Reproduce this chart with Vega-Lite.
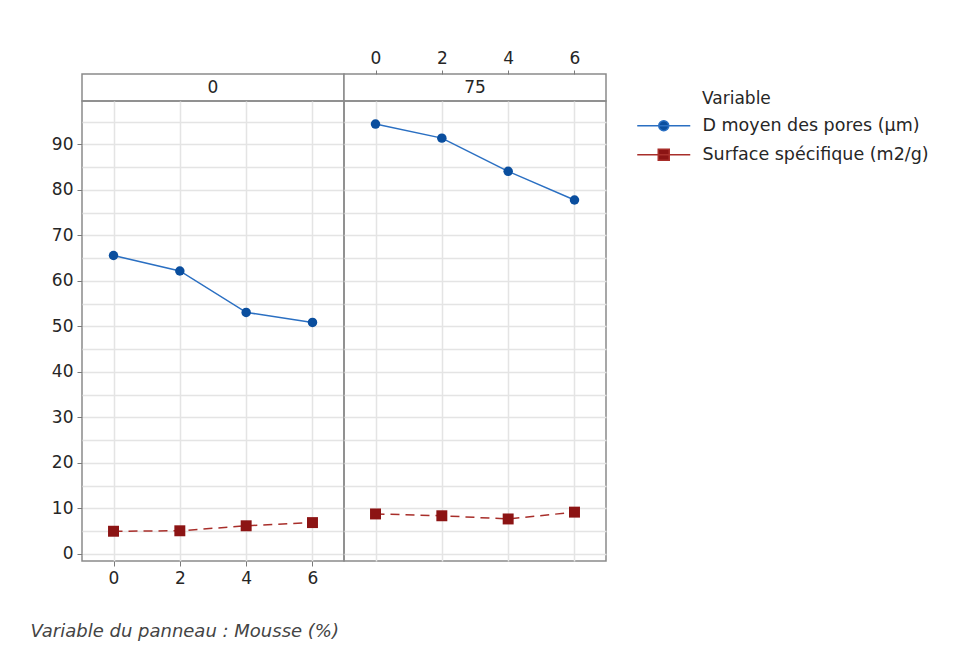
{
  "$schema": "https://vega.github.io/schema/vega-lite/v6.json",
  "background": "white",
  "padding": {"left": 30, "top": 48, "right": 10, "bottom": 8},
  "datasets": {
    "d": [
      {"Mousse": 0, "X": 0, "Variable": "D moyen des pores (µm)", "Valeur": 65.6},
      {"Mousse": 0, "X": 2, "Variable": "D moyen des pores (µm)", "Valeur": 62.2},
      {"Mousse": 0, "X": 4, "Variable": "D moyen des pores (µm)", "Valeur": 53.1},
      {"Mousse": 0, "X": 6, "Variable": "D moyen des pores (µm)", "Valeur": 50.9},
      {"Mousse": 0, "X": 0, "Variable": "Surface spécifique (m2/g)", "Valeur": 5.0},
      {"Mousse": 0, "X": 2, "Variable": "Surface spécifique (m2/g)", "Valeur": 5.1},
      {"Mousse": 0, "X": 4, "Variable": "Surface spécifique (m2/g)", "Valeur": 6.2},
      {"Mousse": 0, "X": 6, "Variable": "Surface spécifique (m2/g)", "Valeur": 6.9},
      {"Mousse": 75, "X": 0, "Variable": "D moyen des pores (µm)", "Valeur": 94.5},
      {"Mousse": 75, "X": 2, "Variable": "D moyen des pores (µm)", "Valeur": 91.4},
      {"Mousse": 75, "X": 4, "Variable": "D moyen des pores (µm)", "Valeur": 84.1},
      {"Mousse": 75, "X": 6, "Variable": "D moyen des pores (µm)", "Valeur": 77.8},
      {"Mousse": 75, "X": 0, "Variable": "Surface spécifique (m2/g)", "Valeur": 8.8},
      {"Mousse": 75, "X": 2, "Variable": "Surface spécifique (m2/g)", "Valeur": 8.4},
      {"Mousse": 75, "X": 4, "Variable": "Surface spécifique (m2/g)", "Valeur": 7.7},
      {"Mousse": 75, "X": 6, "Variable": "Surface spécifique (m2/g)", "Valeur": 9.2}
    ]
  },
  "title": {
    "text": "Variable du panneau : Mousse (%)",
    "orient": "bottom",
    "anchor": "start",
    "font": "DejaVu Sans",
    "fontSize": 18,
    "fontStyle": "italic",
    "fontWeight": "normal",
    "color": "#444444",
    "offset": 36,
    "dx": -20
  },
  "columns": 2,
  "spacing": 0,
  "align": "each",
  "bounds": "flush",
  "concat": [
    {
      "width": 262,
      "height": 27,
      "data": {"values": [{"Mousse": "0"}]},
      "layer": [
        {"mark": {"type": "rect", "fill": "white", "stroke": "#8a8a8a", "strokeWidth": 1.5}},
        {
          "mark": {"type": "text", "font": "DejaVu Sans", "fontSize": 17, "color": "#262626"},
          "encoding": {"text": {"field": "Mousse", "type": "nominal"}}
        }
      ]
    },
    {
      "width": 262,
      "height": 27,
      "data": {"values": [{"Mousse": "75"}]},
      "layer": [
        {"mark": {"type": "rect", "fill": "white", "stroke": "#8a8a8a", "strokeWidth": 1.5}},
        {
          "mark": {"type": "text", "font": "DejaVu Sans", "fontSize": 17, "color": "#262626"},
          "encoding": {"text": {"field": "Mousse", "type": "nominal"}}
        }
      ]
    },
    {
      "width": 262,
      "height": 460,
      "data": {"name": "d"},
      "transform": [{"filter": {"field": "Mousse", "equal": 0}}],
      "encoding": {
        "x": {
          "field": "X", "type": "quantitative",
          "scale": {"domain": [-0.95, 6.95], "nice": false, "zero": false},
          "axis": {"orient": "bottom", "values": [0, 2, 4, 6], "grid": true, "title": null, "labelPadding": 4}
        },
        "y": {
          "field": "Valeur", "type": "quantitative",
          "scale": {"domain": [-1.54, 99.56], "nice": false, "zero": false},
          "axis": {
            "values": [0, 5, 10, 15, 20, 25, 30, 35, 40, 45, 50, 55, 60, 65, 70, 75, 80, 85, 90, 95],
            "grid": true, "title": null, "labelPadding": 4,
            "labelExpr": "datum.value % 10 === 0 ? datum.label : ''",
            "tickOpacity": {"condition": {"test": "datum.value % 10 === 0", "value": 1}, "value": 0}
          }
        }
      },
      "layer": [
        {
          "transform": [{"filter": {"field": "Variable", "equal": "D moyen des pores (µm)"}}],
          "mark": {"type": "line", "strokeWidth": 1.5},
          "encoding": {
            "color": {
              "field": "Variable", "type": "nominal",
              "scale": {"domain": ["D moyen des pores (µm)", "Surface spécifique (m2/g)"], "range": ["#2a6fc2", "#a82e2a"]},
              "legend": {
                "orient": "none", "legendX": 573, "legendY": 17,
                "title": "Variable", "titleFont": "DejaVu Sans", "titleFontSize": 17, "titleFontWeight": "normal", "titleColor": "#262626", "titlePadding": 9,
                "labelFont": "DejaVu Sans", "labelFontSize": 17.5, "labelColor": "#262626", "labelOffset": 30, "labelLimit": 400,
                "symbolSize": 100, "symbolStrokeWidth": 1.5, "rowPadding": 10,
                "encode": {
                  "title": {"update": {"dx": {"value": 47}}},
                  "symbols": {"update": {
                    "shape": {"signal": "datum.value === 'Surface spécifique (m2/g)' ? 'M-5.3,0L5.3,0M-1.1,-1.1L1.1,-1.1L1.1,1.1L-1.1,1.1Z' : 'M-5.3,0L5.3,0M1,0A1,1,0,1,1,-1,0A1,1,0,1,1,1,0Z'"},
                    "fill": {"signal": "datum.value === 'Surface spécifique (m2/g)' ? '#8c1414' : '#0a4e9e'"},
                    "stroke": {"signal": "datum.value === 'Surface spécifique (m2/g)' ? '#a82e2a' : '#2a6fc2'"},
                    "strokeWidth": {"value": 1.5},
                    "strokeOpacity": {"value": 1},
                    "opacity": {"value": 1},
                    "fillOpacity": {"value": 1}
                  }}
                }
              }
            }
          }
        },
        {
          "transform": [{"filter": {"field": "Variable", "equal": "Surface spécifique (m2/g)"}}],
          "mark": {"type": "line", "strokeWidth": 1.5, "stroke": "#a82e2a", "strokeDash": [9, 6]},
          "encoding": {}
        },
        {
          "transform": [{"filter": {"field": "Variable", "equal": "D moyen des pores (µm)"}}],
          "mark": {"type": "point", "shape": "circle", "filled": true, "opacity": 1, "fill": "#0a4e9e", "size": 90}
        },
        {
          "transform": [{"filter": {"field": "Variable", "equal": "Surface spécifique (m2/g)"}}],
          "mark": {"type": "point", "shape": "square", "filled": true, "opacity": 1, "fill": "#8c1414", "size": 120}
        }
      ]
    },
    {
      "width": 262,
      "height": 460,
      "data": {"name": "d"},
      "transform": [{"filter": {"field": "Mousse", "equal": 75}}],
      "encoding": {
        "y": {
          "field": "Valeur", "type": "quantitative",
          "scale": {"domain": [-1.54, 99.56], "nice": false, "zero": false},
          "axis": {
            "values": [0, 5, 10, 15, 20, 25, 30, 35, 40, 45, 50, 55, 60, 65, 70, 75, 80, 85, 90, 95],
            "grid": true, "title": null, "labels": false, "ticks": false, "domain": false
          }
        }
      },
      "layer": [
        {
          "transform": [{"filter": {"field": "Variable", "equal": "D moyen des pores (µm)"}}],
          "mark": {"type": "line", "strokeWidth": 1.5, "stroke": "#2a6fc2"},
          "encoding": {
            "x": {
              "field": "X", "type": "quantitative",
              "scale": {"domain": [-0.95, 6.95], "nice": false, "zero": false},
              "axis": {"orient": "top", "offset": 27, "values": [0, 2, 4, 6], "grid": false, "title": null, "labelPadding": 3, "tickSize": 4}
            }
          }
        },
        {
          "transform": [{"filter": {"field": "Variable", "equal": "Surface spécifique (m2/g)"}}],
          "mark": {"type": "line", "strokeWidth": 1.5, "stroke": "#a82e2a", "strokeDash": [9, 6]},
          "encoding": {
            "x": {"field": "X", "type": "quantitative", "axis": null}
          }
        },
        {
          "transform": [{"filter": {"field": "Variable", "equal": "D moyen des pores (µm)"}}],
          "mark": {"type": "point", "shape": "circle", "filled": true, "opacity": 1, "fill": "#0a4e9e", "size": 90},
          "encoding": {
            "x": {
              "field": "X", "type": "quantitative",
              "axis": {"orient": "bottom", "values": [0, 2, 4, 6], "grid": true, "labels": false, "ticks": false, "title": null}
            }
          }
        },
        {
          "transform": [{"filter": {"field": "Variable", "equal": "Surface spécifique (m2/g)"}}],
          "mark": {"type": "point", "shape": "square", "filled": true, "opacity": 1, "fill": "#8c1414", "size": 120},
          "encoding": {
            "x": {"field": "X", "type": "quantitative", "axis": null}
          }
        }
      ],
      "resolve": {"axis": {"x": "independent"}}
    }
  ],
  "config": {
    "font": "DejaVu Sans",
    "view": {"stroke": "#8a8a8a", "strokeWidth": 1.5},
    "axis": {
      "labelFont": "DejaVu Sans",
      "labelFontSize": 17,
      "labelColor": "#262626",
      "tickColor": "#7a7a7a",
      "tickSize": 5,
      "tickWidth": 1,
      "gridColor": "#e4e4e4",
      "gridWidth": 1.5,
      "domain": false
    }
  }
}
